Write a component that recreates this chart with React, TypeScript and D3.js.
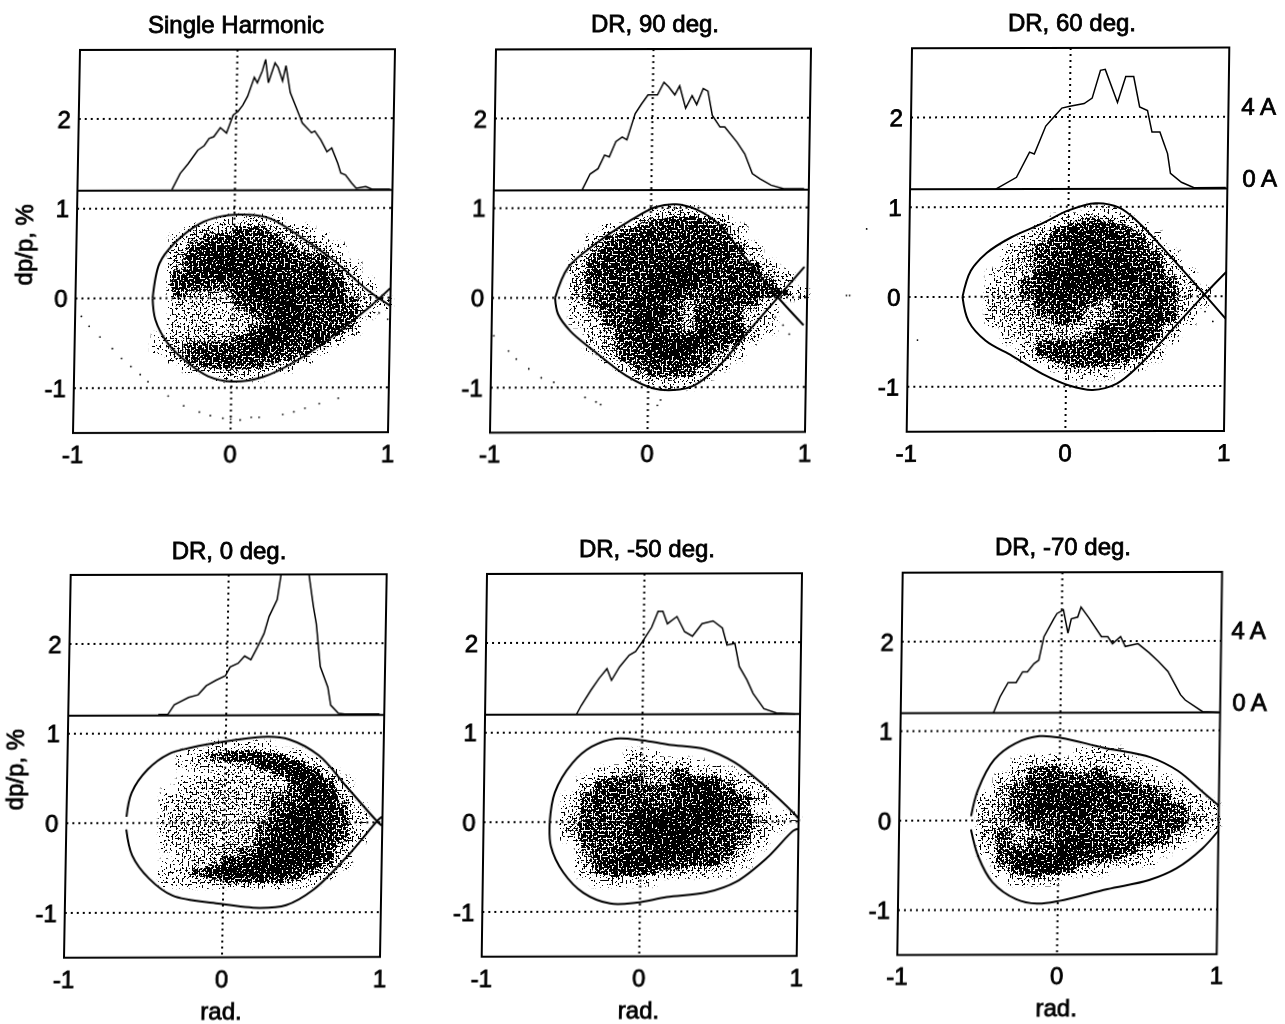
import React from "react";
import * as d3 from "d3";

type Pt = [number, number];

const titles = ["Single Harmonic", "DR, 90 deg.", "DR, 60 deg.", "DR, 0 deg.", "DR, -50 deg.", "DR, -70 deg."];
const xTicks = [-1, 0, 1];
const yTicks = [-1, 0, 1, 2];

// histograms: x in rad., height on the shared dp/p axis
const histSingle: Pt[] = [[-.40,1.21],[-.35,1.39],[-.30,1.50],[-.24,1.65],[-.20,1.70],[-.17,1.78],[-.14,1.80],[-.10,1.90],[-.06,1.84],[-.02,2.04],[.01,2.08],[.04,2.15],[.07,2.25],[.11,2.46],[.13,2.40],[.16,2.53],[.18,2.66],[.20,2.40],[.24,2.62],[.26,2.57],[.29,2.42],[.31,2.59],[.34,2.29],[.38,2.12],[.42,1.95],[.48,1.84],[.50,1.86],[.54,1.76],[.58,1.63],[.61,1.67],[.65,1.50],[.67,1.39],[.70,1.37],[.74,1.28],[.77,1.22],[.83,1.24],[.87,1.21],[.985,1.21]];
const hist90: Pt[] = [[-.44,1.20],[-.39,1.38],[-.34,1.44],[-.30,1.59],[-.27,1.57],[-.23,1.74],[-.19,1.79],[-.16,1.76],[-.11,2.05],[-.07,2.16],[-.03,2.26],[.03,2.26],[.07,2.40],[.10,2.35],[.14,2.26],[.17,2.36],[.21,2.11],[.25,2.25],[.28,2.15],[.32,2.33],[.35,2.30],[.38,2.03],[.43,1.90],[.46,1.90],[.54,1.73],[.59,1.60],[.64,1.38],[.69,1.32],[.76,1.25],[.84,1.21],[.97,1.21]];
const hist60: Pt[] = [[-.46,1.20],[-.33,1.33],[-.25,1.61],[-.22,1.59],[-.15,1.90],[-.10,2.0],[-.05,2.10],[0,2.12],[.09,2.15],[.14,2.21],[.19,2.52],[.22,2.53],[.30,2.16],[.35,2.45],[.40,2.45],[.44,2.11],[.49,2.07],[.52,1.83],[.57,1.83],[.62,1.59],[.64,1.37],[.71,1.27],[.79,1.21],[.99,1.21]];
const hist0: Pt[] = [[-.43,1.21],[-.37,1.21],[-.33,1.32],[-.24,1.40],[-.18,1.43],[-.13,1.53],[-.07,1.59],[-.01,1.64],[.02,1.74],[.07,1.78],[.11,1.86],[.15,1.82],[.19,1.96],[.23,2.11],[.26,2.30],[.31,2.49],[.33,2.75],[.345,2.90],[.50,2.90],[.51,2.75],[.54,2.41],[.56,2.22],[.59,1.74],[.64,1.51],[.66,1.31],[.71,1.22],[.75,1.21],[.97,1.21]];
const histM50: Pt[] = [[-.42,1.20],[-.39,1.30],[-.33,1.47],[-.28,1.60],[-.23,1.71],[-.20,1.58],[-.15,1.73],[-.09,1.86],[-.05,1.90],[0,2.03],[.05,2.17],[.09,2.35],[.12,2.35],[.15,2.21],[.21,2.29],[.26,2.12],[.31,2.07],[.37,2.21],[.44,2.24],[.50,2.16],[.53,1.97],[.58,1.99],[.61,1.73],[.66,1.58],[.70,1.43],[.77,1.26],[.85,1.21],[.97,1.20]];
const histM70: Pt[] = [[-.42,1.20],[-.38,1.38],[-.33,1.54],[-.28,1.54],[-.24,1.66],[-.21,1.66],[-.17,1.75],[-.14,1.79],[-.11,2.05],[-.05,2.25],[-.03,2.31],[.01,2.35],[.04,2.09],[.06,2.25],[.10,2.27],[.12,2.38],[.17,2.26],[.25,2.05],[.29,2.05],[.32,1.97],[.37,2.05],[.40,1.94],[.48,1.97],[.55,1.87],[.61,1.77],[.67,1.66],[.75,1.40],[.78,1.34],[.89,1.21],[.99,1.20]];
const histograms = [histSingle, hist90, hist60, hist0, histM50, histM70];

// separatrix branches, left tip to right edge
const upperSingle: Pt[] = [[-.51,0],[-.47,.39],[-.38,.61],[-.22,.83],[-.09,.91],[.04,.93],[.22,.89],[.43,.67],[.64,.41],[.85,.09],[1,-.09]];
const lowerSingle: Pt[] = [[-.51,0],[-.49,-.24],[-.41,-.5],[-.28,-.72],[-.15,-.87],[0,-.93],[.2,-.88],[.43,-.68],[.85,-.13],[1,.11]];
const upper90: Pt[] = [[-.6,0],[-.52,.34],[-.35,.6],[-.14,.85],[.03,1.01],[.16,1.04],[.29,.98],[.43,.82],[.6,.45],[.82,-.01],[.98,-.31]];
const lower90: Pt[] = [[-.6,0],[-.58,-.18],[-.5,-.37],[-.35,-.59],[-.14,-.87],[.03,-1.01],[.16,-1.03],[.29,-.98],[.46,-.74],[.6,-.44],[.8,-.03],[.98,.34]];
const upper60: Pt[] = [[-.66,0],[-.61,.29],[-.51,.49],[-.36,.66],[-.17,.81],[0,.96],[.17,1.04],[.32,.99],[.44,.83],[.66,.42],[.87,.01],[1,-.25]];
const lower60: Pt[] = [[-.66,0],[-.62,-.27],[-.51,-.49],[-.34,-.66],[-.15,-.86],[.02,-.99],[.17,-1.04],[.32,-.97],[.47,-.75],[.66,-.38],[.87,.03],[1,.27]];
const upper0: Pt[] = [[-.62,.07],[-.59,.34],[-.49,.6],[-.36,.77],[-.22,.84],[0,.91],[.27,.96],[.4,.93],[.59,.75],[.78,.38],[.98,-.01],[1.01,-.05]];
const lower0: Pt[] = [[-.62,-.07],[-.58,-.36],[-.47,-.62],[-.32,-.81],[-.03,-.9],[.23,-.95],[.4,-.92],[.57,-.75],[.78,-.38],[.98,.04],[1.01,.08]];
const upperM50: Pt[] = [[-.58,0],[-.55,.33],[-.44,.66],[-.32,.84],[-.17,.93],[0,.91],[.17,.86],[.4,.81],[.59,.66],[.78,.4],[.97,.09],[1,.03]];
const lowerM50: Pt[] = [[-.58,0],[-.57,-.27],[-.49,-.56],[-.36,-.79],[-.19,-.91],[-.02,-.9],[.17,-.84],[.42,-.79],[.61,-.67],[.8,-.41],[.97,-.1],[1,-.08]];
const upperM70: Pt[] = [[-.55,.05],[-.51,.34],[-.41,.68],[-.28,.86],[-.13,.94],[.01,.92],[.27,.81],[.57,.7],[.74,.55],[.9,.31],[1,.16]];
const lowerM70: Pt[] = [[-.55,-.1],[-.5,-.41],[-.41,-.69],[-.26,-.88],[-.13,-.93],[.01,-.9],[.31,-.77],[.57,-.67],[.74,-.54],[.9,-.32],[1,-.12]];
const uppers = [upperSingle, upper90, upper60, upper0, upperM50, upperM70];
const lowers = [lowerSingle, lower90, lower60, lower0, lowerM50, lowerM70];

// particle density read by eye: rows 0.1 dp/p tall from +1 down to -1, columns 0.1 rad wide from -1,
// digit 0-9 = how black that cell looks ("." = empty)
const densitySingle = [
  "",
  ".........3443",
  ".......45566543",
  "......3567766543",
  "......46888766543",
  "......57898777664",
  "......578998777753",
  "......678889877764",
  "......7766799878753",
  "......6555799977853",
  "......44446799777643",
  "......3433568987764",
  "......343345797776",
  "......344446997775",
  ".....245556998785",
  ".....35666798775",
  "......567777765",
  ".......5666654",
  ".........443",
];
const density90 = [
  "..........344",
  ".........567765",
  ".......467777764",
  "......3677778874",
  "......57877778873",
  ".....367877787763",
  ".....4778788877774",
  ".....57777899877753",
  ".....56777999777774",
  ".....567779976777763",
  ".....3677886567763",
  ".....3567886577643",
  ".....2467986587732",
  "......357886598752",
  "......45778788774",
  "......3567999765",
  ".......467898653",
  "........5677764",
  ".........56664",
  "..........343",
];
const density60 = [
  "...........22",
  ".........35654",
  "........4678865",
  ".......357888763",
  "......3567888875",
  "......45678888763",
  "......45688888774",
  ".....2458899988752",
  ".....3468899998763",
  ".....44689787777642",
  ".....44579765678642",
  ".....4556765567764",
  ".....4455664567863",
  "......34554587874",
  "......34555677863",
  ".......467677874",
  ".......367777763",
  ".........566653",
  "..........332",
];
const density0 = [
  "",
  ".........2332",
  ".......24688763",
  ".......344458984",
  "........123346984",
  ".......24444447962",
  "......144544556974",
  "......344454566885",
  "......4445445699862",
  "......4454455799863",
  "......4445446899862",
  "......4454456899864",
  "......344455799975",
  ".......44556899974",
  "......124578999863",
  "......34689999864",
  "......2345666652",
];
const densityM50 = [
  "",
  "",
  ".........33",
  ".........44331",
  ".......245556331",
  "......36665578753",
  "......577666799642",
  ".....2677766789865",
  ".....367677789966",
  ".....466699988976531",
  ".....56668999887652",
  ".....4676799987764",
  "......666789987752",
  "......56788988764",
  "......57899877752",
  "......3678755442",
  ".......3432",
];
const densityM70 = [
  "",
  "",
  "...........231",
  ".......13413331",
  ".......467556432",
  "......35777676542",
  "......567888887654",
  ".....35699898777643",
  ".....456999979777642",
  ".....4568788666776532",
  ".....4556677666666531",
  ".....56556786676653",
  ".....4656699767663",
  ".....266779878641",
  "......6899976542",
  "......4789742",
  ".......453",
];
const densities = [densitySingle, density90, density60, density0, densityM50, densityM70];

// stray particles outside the bucket
const straySingle: Pt[] = [[-.96,-.2],[-.91,-.31],[-.84,-.43],[-.76,-.56],[-.70,-.67],[-.64,-.76],[-.58,-.85],[-.53,-.93],[-.40,-1.09],[-.30,-1.20],[-.20,-1.27],[-.13,-1.31],[-.05,-1.34],[0,-1.35],[.06,-1.36],[.13,-1.33],[.18,-1.33],[.33,-1.30],[.40,-1.27],[.47,-1.23],[.56,-1.18],[.68,-1.12],[.93,-.17],[.985,-.24]];
const stray90: Pt[] = [[-.985,-.42],[-.89,-.59],[-.84,-.68],[-.76,-.79],[-.68,-.89],[-.60,-.94],[-.54,-1.0],[-.40,-1.11],[-.33,-1.16],[-.30,-1.19],[.06,-1.2],[.08,-1.14],[.8,-.22],[.85,-.31],[.89,-.41],[1.25,.02],[1.27,.02]];
const stray60: Pt[] = [[-.94,-.48],[.87,-.17],[.92,-.28],[-1.27,.76]];
const strays = [straySingle, stray90, stray60, [], [], []];

// where each scanned panel sits on the page (the scan is slightly skewed)
const frames = [
  { left: 73, right: 388, topLeft: 80, top: 50, bottom: 433, titleX: 236, titleY: 33, ampDx: 0 },
  { left: 490, right: 805, topLeft: 496, top: 49.5, bottom: 432.7, titleX: 655, titleY: 32, ampDx: 0 },
  { left: 906.7, right: 1224, topLeft: 912, top: 48.3, bottom: 431.7, titleX: 1072, titleY: 31, ampDx: 13 },
  { left: 64, right: 380, topLeft: 70.7, top: 575, bottom: 957.7, titleX: 229, titleY: 559, ampDx: 0 },
  { left: 481.7, right: 796.7, topLeft: 487, top: 574, bottom: 956.7, titleX: 647, titleY: 557, ampDx: 0 },
  { left: 897.3, right: 1216.7, topLeft: 902.7, top: 572.7, bottom: 955, titleX: 1063, titleY: 555, ampDx: 10 },
];

const FONT = "'Liberation Sans', Arial, sans-serif";
const LABEL_SIZE = 24;
const SPLIT = 1.2; // dp/p where the histogram box sits on the phase-space box
const Y_MIN = -1.5;
const Y_MAX = 2.77;

const cols = d3.range(20);

const textStyle = { fontFamily: FONT, fill: "#000", stroke: "#000", strokeWidth: 0.8 };

function skewFor(f: (typeof frames)[number]) {
  const h = f.bottom - f.top;
  const c = -(f.topLeft - f.left) / h;
  return `matrix(1,-0.0025,${c},1,${f.left - c * h},${f.top})`;
}

const Panel = ({ index }: { index: number }) => {
  const f = frames[index];
  const w = f.right - f.left;
  const h = f.bottom - f.top;
  const x = d3.scaleLinear().domain([-1, 1]).range([0, w]);
  const y = d3.scaleLinear().domain([Y_MIN, Y_MAX]).range([h, 0]);
  const line = d3.line<Pt>().x((d) => x(d[0])).y((d) => y(d[1]));
  const smooth = d3.line<Pt>().x((d) => x(d[0])).y((d) => y(d[1])).curve(d3.curveCatmullRom.alpha(0.5));
  const clipId = `frame-${index}`;
  const inLeftCol = index % 3 === 0;
  const inRightCol = index % 3 === 2;
  const inBottomRow = index >= 3;

  return (
    <g transform={skewFor(f)}>
      <clipPath id={clipId}>
        <rect x={0} y={0} width={w} height={h} />
      </clipPath>

      {yTicks.map((t) => (
        <line key={t} x1={0} x2={w} y1={y(t)} y2={y(t)} stroke="#000" strokeWidth={2} strokeDasharray="2 4" />
      ))}
      <line x1={x(0)} x2={x(0)} y1={0} y2={h} stroke="#000" strokeWidth={2} strokeDasharray="2 4" />

      <g clipPath={`url(#${clipId})`} fill="none" stroke="#000">
        <path d={line(histograms[index]) ?? ""} strokeWidth={1.5} />
        <path d={smooth(uppers[index]) ?? ""} strokeWidth={2} />
        <path d={smooth(lowers[index]) ?? ""} strokeWidth={2} />
      </g>

      <rect x={0} y={0} width={w} height={h} fill="none" stroke="#000" strokeWidth={2} />
      <line x1={0} x2={w} y1={y(SPLIT)} y2={y(SPLIT)} stroke="#000" strokeWidth={2} />

      {strays[index].map((d, i) => (
        <circle key={i} cx={x(d[0])} cy={y(d[1])} r={0.9} fill="#000" />
      ))}

      {yTicks.map((t) => (
        <text key={t} x={-8} y={y(t)} dy="0.36em" textAnchor="end" fontSize={LABEL_SIZE} style={textStyle}>
          {t}
        </text>
      ))}
      {xTicks.map((t) => (
        <text key={t} x={x(t)} y={h + 30} textAnchor="middle" fontSize={LABEL_SIZE} style={textStyle}>
          {t}
        </text>
      ))}

      {inBottomRow && (
        <text x={x(0)} y={h + 62} textAnchor="middle" fontSize={LABEL_SIZE} style={textStyle}>
          rad.
        </text>
      )}
      {inLeftCol && (
        <text
          transform={`translate(-44,${y(0.6)}) rotate(-90)`}
          textAnchor="middle"
          fontSize={LABEL_SIZE}
          style={textStyle}
        >
          dp/p, %
        </text>
      )}
      {inRightCol && (
        <>
          <text x={w + f.ampDx} y={y(2.02)} fontSize={LABEL_SIZE} style={textStyle}>4 A</text>
          <text x={w + f.ampDx + 2} y={y(1.22)} fontSize={LABEL_SIZE} style={textStyle}>0 A</text>
        </>
      )}
    </g>
  );
};

// density cells only; the #stipple filter turns them into dots
const Density = ({ index }: { index: number }) => {
  const f = frames[index];
  const w = f.right - f.left;
  const h = f.bottom - f.top;
  const x = d3.scaleLinear().domain([-1, 1]).range([0, w]);
  const y = d3.scaleLinear().domain([Y_MIN, Y_MAX]).range([h, 0]);
  const level = d3.scalePow().exponent(1.25).domain([0, 8.8]).range([0, 1]).clamp(true);
  return (
    <g transform={skewFor(f)}>
      {densities[index].map((row, r) =>
        cols.map((c) => {
          const v = Number(row[c]);
          if (!v) return null;
          const x0 = -1 + c * 0.1;
          const y1 = 1 - r * 0.1;
          return (
            <rect
              key={`${r}-${c}`}
              x={x(x0)}
              y={y(y1)}
              width={x(x0 + 0.1) - x(x0)}
              height={y(y1 - 0.1) - y(y1)}
              fill="#000"
              fillOpacity={level(v)}
              shapeRendering="crispEdges"
            />
          );
        })
      )}
    </g>
  );
};

export default function App() {
  return (
    <svg
      width={1285}
      height={1024}
      style={{ position: "absolute", left: 0, top: 0, background: "#fff" }}
    >
      <defs>
        <filter
          id="stipple"
          filterUnits="userSpaceOnUse"
          x={0}
          y={0}
          width={1285}
          height={1024}
          colorInterpolationFilters="sRGB"
        >
          <feGaussianBlur in="SourceAlpha" stdDeviation={2} result="density" />
          <feTurbulence type="fractalNoise" baseFrequency={0.5} numOctaves={1} seed={4} result="noise" />
          <feColorMatrix
            in="noise"
            type="matrix"
            values="0 0 0 0 0  0 0 0 0 0  0 0 0 0 0  3 0 0 0 -1"
            result="grain"
          />
          <feComposite in="density" in2="grain" operator="arithmetic" k1={0} k2={1} k3={1} k4={-1} result="sum" />
          <feComponentTransfer in="sum">
            <feFuncA type="linear" slope={20} intercept={0} />
          </feComponentTransfer>
        </filter>
      </defs>

      <g filter="url(#stipple)">
        {frames.map((_, i) => (
          <Density key={i} index={i} />
        ))}
      </g>

      {frames.map((_, i) => (
        <Panel key={i} index={i} />
      ))}

      {titles.map((t, i) => (
        <text
          key={t}
          x={frames[i].titleX}
          y={frames[i].titleY}
          textAnchor="middle"
          fontSize={LABEL_SIZE}
          style={textStyle}
        >
          {t}
        </text>
      ))}
    </svg>
  );
}
